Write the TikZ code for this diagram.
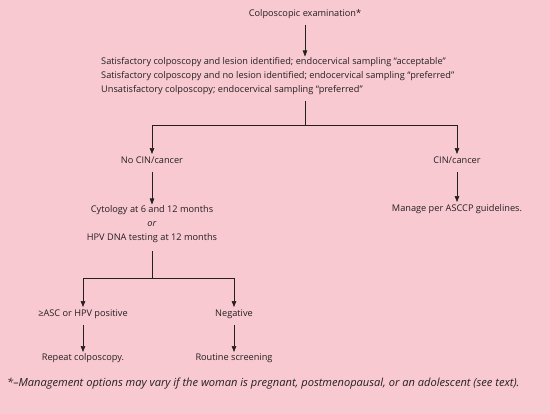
\documentclass[tikz,border=0pt]{standalone}
\usepackage{fontspec}
\setmainfont{Open Sans}
\usetikzlibrary{arrows.meta,calc}
\definecolor{bgpink}{RGB}{249,201,210}
\definecolor{ink}{RGB}{35,31,32}
\begin{document}
\begin{tikzpicture}[x=1pt,y=-1pt,
  every node/.style={font=\fontsize{9.2}{14}\selectfont, text=ink, inner sep=0pt},
  one/.style={align=center, text height=7pt, text depth=2.5pt},
  multi/.style={align=center},
  conn/.style={draw=ink, line width=0.6pt},
  arr/.style={conn, -{Triangle[length=6pt,width=4.5pt]}}]
\fill[bgpink] (0,0) rectangle (550,414);
\useasboundingbox (0,0) rectangle (550,414);

\node[one] (exam) at (305,14) {Colposcopic examination*};
\node[align=left, anchor=north west] (cond) at (101,57.5) {Satisfactory colposcopy and lesion identified; endocervical sampling “acceptable”\\
Satisfactory colposcopy and no lesion identified; endocervical sampling “preferred”\\
Unsatisfactory colposcopy; endocervical sampling “preferred”};
\node[one] (nocin) at (152,161) {No CIN/cancer};
\node[one] (cin) at (457,161) {CIN/cancer};
\node[multi, anchor=north] (cyto) at (152,205.5) {Cytology at 6 and 12 months\\ \textit{or}\\ HPV DNA testing at 12 months};
\node[one] (manage) at (457,209) {Manage per ASCCP guidelines.};
\node[one] (asc) at (83,314) {≥ASC or HPV positive};
\node[one] (neg) at (234,314) {Negative};
\node[one] (repeat) at (83,358) {Repeat colposcopy.};
\node[one] (routine) at (234,358) {Routine screening};
\node[anchor=west, font=\itshape\fontsize{11.1}{12}\selectfont] (foot) at (7,384) {*–Management options may vary if the woman is pregnant, postmenopausal, or an adolescent (see text).};

\coordinate (j1) at (305,125);
\coordinate (j2) at (152,278);

\draw[arr, shorten <=6pt, shorten >=1pt] (exam.south) -- (exam.south |- cond.north);
\draw[conn, shorten <=6pt] (cond.south -| exam) -- (j1);
\draw[arr, shorten >=2pt] (j1) -| (nocin.north);
\draw[arr, shorten >=2pt] (j1) -| (cin.north);
\draw[arr, shorten <=6pt, shorten >=1pt] (nocin.south) -- (cyto.north);
\draw[arr, shorten <=6pt, shorten >=2pt] (cin.south) -- (manage.north);
\draw[conn, shorten <=8pt] (cyto.south) -- (j2);
\draw[arr, shorten >=2pt] (j2) -| (asc.north);
\draw[arr, shorten >=2pt] (j2) -| (neg.north);
\draw[arr, shorten <=6pt, shorten >=1pt] (asc.south) -- (repeat.north);
\draw[arr, shorten <=6pt, shorten >=1pt] (neg.south) -- (routine.north);
\end{tikzpicture}
\end{document}
